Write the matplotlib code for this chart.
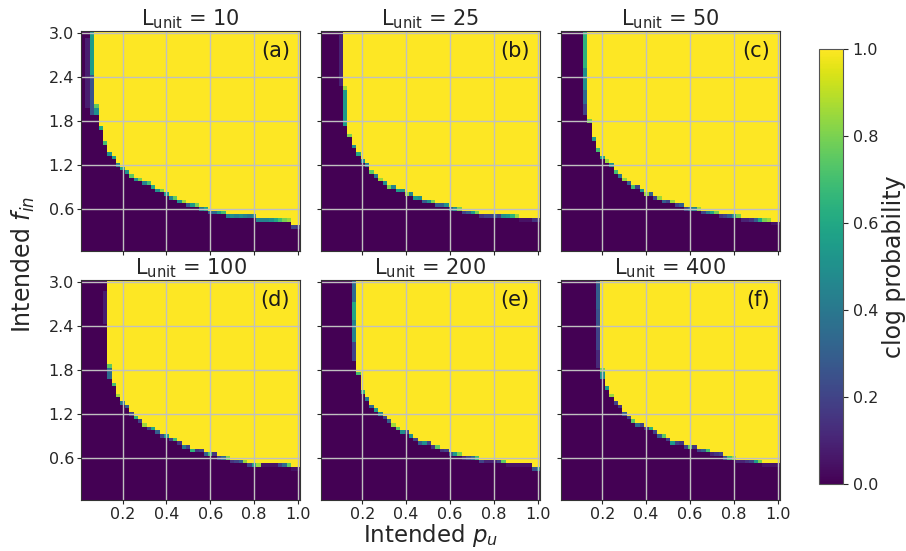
import numpy as np
import matplotlib
matplotlib.use("Agg")
import matplotlib.pyplot as plt

# grid of the simulation: p_u columns, f_in rows
p_values = np.round(np.arange(1, 51) * 0.02, 2)
f_values = np.round(np.arange(1, 61) * 0.05, 2)

titles = ["L$_{\\rm unit}$ = 10", "L$_{\\rm unit}$ = 25", "L$_{\\rm unit}$ = 50",
          "L$_{\\rm unit}$ = 100", "L$_{\\rm unit}$ = 200", "L$_{\\rm unit}$ = 400"]
panel_tags = ["(a)", "(b)", "(c)", "(d)", "(e)", "(f)"]

# lowest f_in that clogs (prob ~1) for each p_u column; 3.05 = never in range
onset_a = [3.05, 3.05, 3.05, 2.05, 1.75, 1.55, 1.40, 1.35, 1.25, 1.20,
           1.15, 1.10, 1.05, 1.05, 1.00, 1.00, 0.95, 0.90, 0.90, 0.85,
           0.80, 0.80, 0.75, 0.75, 0.70, 0.70, 0.70, 0.65, 0.65, 0.60,
           0.60, 0.60, 0.60, 0.55, 0.55, 0.55, 0.55, 0.55, 0.55, 0.55,
           0.50, 0.50, 0.50, 0.50, 0.50, 0.50, 0.50, 0.50, 0.40, 0.40]
onset_b = [3.05, 3.05, 3.05, 3.05, 3.05, 2.30, 1.65, 1.50, 1.40, 1.30,
           1.25, 1.15, 1.10, 1.05, 1.00, 0.95, 0.95, 0.90, 0.90, 0.85,
           0.85, 0.80, 0.80, 0.75, 0.75, 0.75, 0.70, 0.70, 0.70, 0.65,
           0.65, 0.65, 0.60, 0.60, 0.60, 0.60, 0.55, 0.55, 0.55, 0.55,
           0.55, 0.55, 0.55, 0.55, 0.55, 0.50, 0.50, 0.50, 0.50, 0.50]
onset_c = [3.05, 3.05, 3.05, 3.05, 3.05, 3.05, 1.85, 1.60, 1.45, 1.35,
           1.30, 1.25, 1.15, 1.10, 1.05, 1.00, 0.95, 0.95, 0.90, 0.85,
           0.85, 0.80, 0.80, 0.75, 0.75, 0.75, 0.70, 0.70, 0.65, 0.65,
           0.65, 0.65, 0.60, 0.60, 0.60, 0.60, 0.55, 0.55, 0.55, 0.55,
           0.55, 0.50, 0.50, 0.50, 0.50, 0.50, 0.50, 0.50, 0.45, 0.45]
onset_d = [3.05, 3.05, 3.05, 3.05, 3.05, 3.05, 1.90, 1.65, 1.50, 1.40,
           1.35, 1.25, 1.20, 1.15, 1.10, 1.05, 1.05, 1.00, 0.95, 0.95,
           0.90, 0.90, 0.85, 0.80, 0.80, 0.75, 0.75, 0.75, 0.70, 0.70,
           0.70, 0.65, 0.65, 0.65, 0.60, 0.60, 0.60, 0.60, 0.55, 0.55,
           0.55, 0.55, 0.55, 0.55, 0.55, 0.55, 0.55, 0.55, 0.50, 0.50]
onset_e = [3.05, 3.05, 3.05, 3.05, 3.05, 3.05, 3.05, 3.05, 1.80, 1.55,
           1.45, 1.35, 1.30, 1.25, 1.20, 1.15, 1.10, 1.05, 1.00, 1.00,
           0.95, 0.90, 0.85, 0.85, 0.85, 0.80, 0.80, 0.75, 0.75, 0.70,
           0.70, 0.70, 0.65, 0.65, 0.65, 0.65, 0.60, 0.60, 0.60, 0.60,
           0.60, 0.60, 0.55, 0.55, 0.55, 0.55, 0.55, 0.55, 0.50, 0.50]
onset_f = [3.05, 3.05, 3.05, 3.05, 3.05, 3.05, 3.05, 3.05, 3.05, 1.85,
           1.60, 1.50, 1.40, 1.35, 1.25, 1.20, 1.15, 1.10, 1.10, 1.05,
           1.05, 1.00, 0.95, 0.95, 0.90, 0.85, 0.85, 0.85, 0.80, 0.80,
           0.80, 0.75, 0.75, 0.75, 0.70, 0.70, 0.70, 0.65, 0.65, 0.65,
           0.60, 0.60, 0.60, 0.60, 0.60, 0.60, 0.55, 0.55, 0.55, 0.55]

# clog probability of the cell just below the onset
edge_a = [0, 0, 0, 0.75, 0.6, 0.7, 0.5, 0.55, 0.45, 0.6,
          0.5, 0.75, 0.5, 0.8, 0.45, 0.7, 0.6, 0.5, 0.8, 0.55,
          0.45, 0.75, 0.5, 0.85, 0.3, 0.55, 0.8, 0.4, 0.6, 0.3,
          0.35, 0.55, 0.7, 0.45, 0.5, 0.45, 0.5, 0.45, 0.4, 0.45,
          0.45, 0.45, 0.45, 0.5, 0.6, 0.7, 0.8, 0.85, 0.2, 0.15]
edge_b = [0, 0, 0, 0, 0, 0.85, 0.8, 0.5, 0.6, 0.5,
          0.45, 0.75, 0.4, 0.85, 0.5, 0.8, 0.45, 0.55, 0.5, 0.85,
          0.45, 0.55, 0.5, 0.3, 0.5, 0.8, 0.3, 0.3, 0.5, 0.3,
          0.5, 0.8, 0.2, 0.3, 0.55, 0.8, 0.15, 0.2, 0.2, 0.3,
          0.2, 0.5, 0.55, 0.65, 0.85, 0.05, 0.05, 0.05, 0.15, 0.15]
edge_c = [0, 0, 0, 0, 0, 0, 0.8, 0.55, 0.7, 0.6,
          0.85, 0.5, 0.7, 0.4, 0.85, 0.3, 0.7, 0.2, 0.5, 0.85,
          0.3, 0.2, 0.85, 0.3, 0.2, 0.85, 0.2, 0.3, 0.2, 0.35,
          0.45, 0.85, 0.2, 0.4, 0.6, 0.8, 0.15, 0.2, 0.3, 0.5,
          0.8, 0.1, 0.1, 0.15, 0.3, 0.6, 0.8, 0.85, 0.05, 0.05]
edge_d = [0, 0, 0, 0, 0, 0, 0.75, 0.7, 0.85, 0.4,
          0.3, 0.2, 0.65, 0.2, 0.85, 0.2, 0.6, 0.3, 0.2, 0.55,
          0.2, 0.7, 0.15, 0.4, 0.2, 0.65, 0.15, 0.2, 0.3, 0.7,
          0.15, 0.2, 0.35, 0.8, 0.15, 0.2, 0.3, 0.85, 0.2, 0.55,
          0.85, 0.05, 0.05, 0.05, 0.05, 0.2, 0.35, 0.75, 0.05, 0.05]
edge_e = [0, 0, 0, 0, 0, 0, 0, 0, 0.7, 0.65,
          0.4, 0.35, 0.55, 0.45, 0.2, 0.3, 0.85, 0.75, 0.5, 0.2,
          0.5, 0.2, 0.3, 0.5, 0.2, 0.15, 0.75, 0.15, 0.2, 0.3,
          0.55, 0.8, 0.1, 0.2, 0.35, 0.7, 0.2, 0.1, 0.1, 0.1,
          0.2, 0.75, 0.05, 0.05, 0.05, 0.05, 0.05, 0.05, 0.25, 0.5]
edge_f = [0, 0, 0, 0, 0, 0, 0, 0, 0, 0.8,
          0.55, 0.85, 0.2, 0.15, 0.3, 0.2, 0.75, 0.35, 0.2, 0.15,
          0.65, 0.2, 0.3, 0.75, 0.2, 0.55, 0.2, 0.15, 0.2, 0.75,
          0.15, 0.2, 0.3, 0.7, 0.1, 0.15, 0.2, 0.25, 0.7, 0.85,
          0.1, 0.1, 0.15, 0.2, 0.55, 0.8, 0.05, 0.05, 0.05, 0.05]

# partially clogged vertical runs: (column number, f_low, f_high, probability)
runs_a = [(2, 2.00, 2.90, 0.08), (3, 2.45, 3.00, 0.55), (3, 1.90, 2.40, 0.25),
          (4, 1.90, 1.95, 0.5)]
runs_b = [(5, 2.30, 2.95, 0.1), (6, 1.75, 2.20, 0.55)]
runs_c = [(6, 2.55, 3.00, 0.65), (6, 2.25, 2.50, 0.5), (6, 2.05, 2.20, 0.35),
          (6, 1.90, 2.00, 0.2)]
runs_d = [(6, 2.45, 2.85, 0.08), (7, 1.70, 1.80, 0.35)]
runs_e = [(8, 2.75, 3.00, 0.35), (8, 2.50, 2.70, 0.6), (8, 2.20, 2.45, 0.45),
          (8, 1.95, 2.15, 0.2)]
runs_f = [(9, 2.65, 3.00, 0.3), (9, 2.40, 2.60, 0.25), (9, 2.10, 2.35, 0.2),
          (9, 1.85, 2.05, 0.12), (10, 1.70, 1.75, 0.5)]

onsets = [onset_a, onset_b, onset_c, onset_d, onset_e, onset_f]
edges = [edge_a, edge_b, edge_c, edge_d, edge_e, edge_f]
runs = [runs_a, runs_b, runs_c, runs_d, runs_e, runs_f]


def build_grid(onset, edge, run_list):
    z = np.zeros((len(f_values), len(p_values)))
    for k in range(len(p_values)):
        for j, f in enumerate(f_values):
            if f >= onset[k] - 1e-9:
                z[j, k] = 1.0
            elif abs(f - (onset[k] - 0.05)) < 1e-9:
                z[j, k] = edge[k]
    for col, lo, hi, val in run_list:
        mask = (f_values >= lo - 1e-9) & (f_values <= hi + 1e-9)
        z[mask, col - 1] = val
    return z


plt.rcParams['font.family'] = 'DejaVu Sans'
plt.rcParams['mathtext.fontset'] = 'dejavusans'
txt_color = '#262626'

fig = plt.figure(figsize=(9.06, 5.51), dpi=100)
W, H = 906, 551
lefts = [81, 320.7, 560.7]
tops = [31, 280]
pw, ph = 219, 220

extent = (0.01, 1.01, 0.025, 3.025)
im = None
for i in range(6):
    r, c = divmod(i, 3)
    ax = fig.add_axes([lefts[c] / W, 1 - (tops[r] + ph) / H, pw / W, ph / H])
    z = build_grid(onsets[i], edges[i], runs[i])
    im = ax.imshow(z, origin='lower', extent=extent, aspect='auto',
                   cmap='viridis', vmin=0, vmax=1, interpolation='nearest')
    ax.set_xlim(0.01, 1.01)
    ax.set_ylim(0.025, 3.025)
    ax.set_xticks([0.2, 0.4, 0.6, 0.8, 1.0])
    ax.set_yticks([0.6, 1.2, 1.8, 2.4, 3.0])
    ax.grid(True, color='#c0c0c0', linewidth=1.0)
    ax.tick_params(labelsize=11.5, colors=txt_color, length=3, pad=2)
    for s in ax.spines.values():
        s.set_color('#333333')
    if r == 0:
        ax.set_xticklabels([])
    if c != 0:
        ax.set_yticklabels([])
    ax.set_title(titles[i], fontsize=15, color=txt_color, pad=4)
    ax.text(0.955, 0.955, panel_tags[i], transform=ax.transAxes,
            ha='right', va='top', fontsize=15, color='#1a1a1a')

fig.text(0.475, 0.004, "Intended $p_u$", ha='center', va='bottom',
         fontsize=16.5, color=txt_color)
fig.text(0.026, 0.52, "Intended $f_{in}$", ha='center', va='center',
         rotation=90, fontsize=17, color=txt_color)

cax = fig.add_axes([819 / W, 1 - 484 / H, 24 / W, 435 / H])
cb = fig.colorbar(im, cax=cax)
cb.set_ticks([0.0, 0.2, 0.4, 0.6, 0.8, 1.0])
cb.ax.tick_params(labelsize=11.5, colors=txt_color, length=3.5)
cb.outline.set_edgecolor('#555555')
cb.set_label("clog probability", fontsize=17, color=txt_color, labelpad=3)

fig.savefig("out.png", dpi=100)
